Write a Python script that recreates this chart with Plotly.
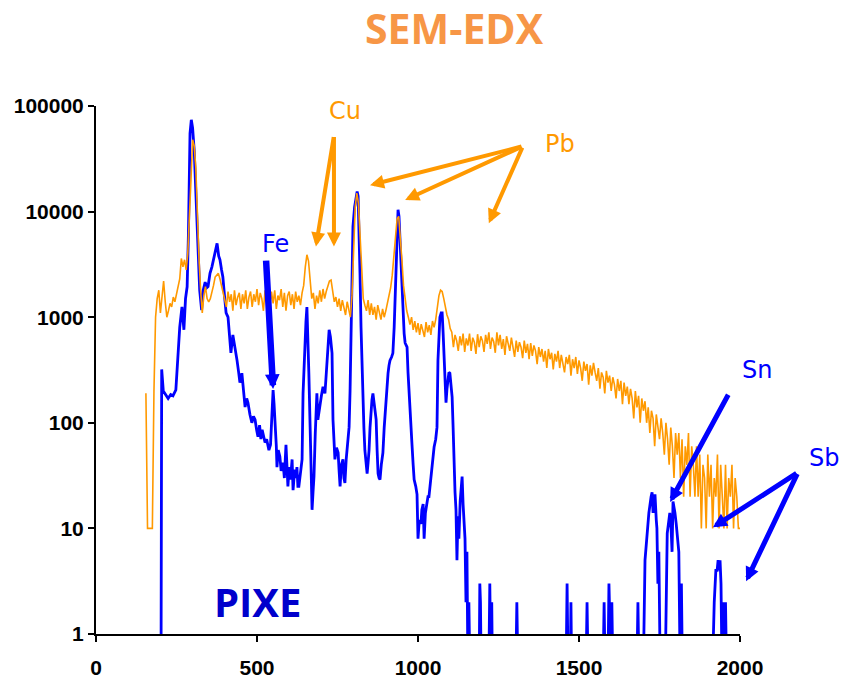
import plotly.graph_objects as go

# SEM-EDX spectrum: channels 155..2000 every 5 channels (rows of 10 = 50 channels)
edx_start, edx_step = 155, 5
edx_counts = [
    190, 10, 10, 10, 10, 200, 1000, 1500, 1800, 1100,
    1700, 2200, 1400, 1000, 1150, 1350, 1250, 1550, 1400, 1700,
    1900, 2300, 3600, 3000, 3500, 2800, 4000, 8000, 20000, 48000,
    42000, 26000, 9000, 3500, 1800, 1100, 1600, 1950, 1500, 1400,
    1500, 1700, 2000, 2400, 2500, 2600, 2300, 1950, 1700, 1450,
    1250, 1750, 1400, 1650, 1150, 1800, 1300, 1550, 1700, 1200,
    1650, 1350, 1800, 1200, 1550, 1750, 1250, 1650, 1400, 1850,
    1300, 1700, 1500, 1150, 1800, 1400, 1650, 1250, 1750, 1350,
    1800, 1200, 1600, 1450, 1850, 1250, 1700, 1150, 1600, 1750,
    1300, 1650, 1200, 1750, 1400, 1600, 1300, 1700, 2000, 3000,
    3900, 3400, 2300, 1500, 1700, 1200, 1600, 1350, 1800, 1400,
    1850, 1500, 1750, 1950, 2200, 2250, 1700, 1400, 1550, 1250,
    1500, 1150, 1450, 1250, 1050, 1400, 1150, 1000, 1600, 5000,
    11000, 15000, 12000, 6000, 2600, 1500, 1300, 1150, 1450, 1050,
    1350, 1050, 1250, 950, 1300, 1100, 950, 1200, 1000, 1150,
    1350, 1500, 1900, 2500, 4000, 6500, 8500, 9000, 6000, 3500,
    2000, 1500, 1150, 1000, 850, 1000, 760, 920, 720, 880,
    680, 860, 760, 650, 900, 720, 840, 680, 920, 800,
    950, 1200, 1600, 1800, 1750, 1500, 1250, 1050, 950, 780,
    720, 520, 680, 600, 480, 660, 540, 700, 470, 630,
    540, 700, 480, 640, 580, 450, 690, 520, 660, 600,
    470, 680, 560, 720, 500, 640, 590, 460, 720, 540,
    680, 500, 620, 440, 660, 570, 480, 640, 530, 420,
    600, 470, 580, 520, 410, 600, 460, 560, 400, 570,
    430, 540, 480, 360, 520, 420, 500, 380, 480, 330,
    500, 400, 460, 320, 450, 380, 480, 330, 440, 370,
    300, 420, 360, 440, 280, 400, 330, 420, 290, 390,
    330, 250, 380, 310, 360, 230, 350, 280, 370, 300,
    250, 330, 210, 300, 270, 190, 310, 240, 280, 200,
    270, 230, 170, 260, 200, 250, 150, 240, 180, 220,
    150, 210, 170, 110, 200, 140, 180, 100, 170, 130,
    160, 100, 140, 80, 130, 110, 60, 120, 90, 70,
    110, 80, 50, 100, 70, 40, 90, 60, 30, 80,
    50, 80, 30, 70, 20, 60, 40, 80, 20, 60,
    40, 20, 60, 20, 50, 10, 40, 30, 10, 50,
    20, 40, 10, 30, 20, 50, 10, 40, 20, 10,
    40, 10, 30, 20, 40, 10, 30, 20, 10, 10,
]
edx_channel = [edx_start + edx_step * i for i in range(len(edx_counts))]

# PIXE spectrum (channel, counts); empty channels sit below the 1-count floor
EMPTY = 0.5
pixe_channel = [
    202, 204, 209, 224, 232, 239, 248, 252, 255, 260, 267, 273, 278, 283, 287,
    292, 296, 300, 305, 311, 317, 322, 328, 333, 339, 344, 348, 354, 360, 366,
    372, 376, 381, 385, 390, 394, 399, 404, 410, 415, 419, 425, 430, 434, 438,
    443, 447, 453, 458, 463, 468, 472, 478, 484, 489, 494, 499, 503, 508, 512,
    516, 521, 525, 530, 534, 537, 542, 546, 550, 553, 556, 560, 562, 566, 571,
    575, 581, 585, 590, 593, 596, 600, 604, 609, 612, 617, 621, 624, 627, 630,
    635, 640, 643, 647, 652, 655, 658, 661, 665, 668, 671, 674, 677, 681, 686,
    689, 693, 696, 700, 705, 708, 711, 714, 717, 721, 724, 728, 733, 736, 739,
    742, 747, 752, 755, 758, 762, 767, 770, 773, 777, 780, 786, 789, 792, 795,
    798, 803, 807, 811, 814, 817, 820, 823, 826, 829, 832, 835, 839, 842, 845,
    848, 851, 854, 857, 860, 865, 870, 873, 876, 879, 882, 886, 891, 895, 898,
    902, 907, 910, 913, 918, 922, 926, 929, 932, 935, 938, 941, 944, 948, 953,
    957, 960, 963, 966, 969, 972, 976, 981, 985, 988, 993, 997, 1000, 1004, 1009,
    1012, 1016, 1019, 1023, 1028, 1031, 1034, 1038, 1043, 1046, 1050, 1055, 1059, 1062, 1065,
    1068, 1072, 1075, 1078, 1081, 1084, 1087, 1090, 1093, 1096, 1099, 1103, 1106, 1109, 1112,
    1115, 1118, 1121, 1124, 1127, 1131, 1134, 1137, 1140, 1143, 1146, 1149, 1152, 1155, 1158,
    1161, 1190, 1192, 1194, 1196, 1220, 1223, 1226, 1229, 1231, 1304, 1307, 1310, 1460, 1463,
    1466, 1473, 1475, 1477, 1522, 1525, 1528, 1575, 1578, 1581, 1590, 1593, 1596, 1599, 1602,
    1605, 1680, 1683, 1686, 1700, 1705, 1711, 1717, 1724, 1727, 1730, 1736, 1740, 1742, 1745,
    1748, 1752, 1768, 1774, 1778, 1782, 1786, 1789, 1792, 1795, 1798, 1802, 1806, 1810, 1814,
    1818, 1821, 1915, 1920, 1925, 1929, 1932, 1935, 1938, 1941, 1944, 1947, 1950, 1955, 1958,
    2000,
]
pixe_counts = [
    EMPTY, 320, 200, 170, 185, 180, 205, 320, 457, 800, 1250, 760, 1500, 1940, 6000,
    55000, 74000, 62000, 38000, 14000, 5400, 1800, 1170, 1800, 2150, 1900, 1950, 2600, 3000, 3600,
    4200, 5000, 3800, 3500, 2800, 2400, 1600, 1100, 1000, 700, 460, 680, 560, 480, 390,
    300, 240, 295, 190, 141, 170, 155, 120, 100, 115, 107, 85, 74, 95, 70,
    86, 72, 65, 70, 58, 55, 62, 120, 204, 150, 107, 60, 38, 55, 48,
    35, 42, 30, 62, 40, 25, 38, 29, 45, 23, 36, 30, 38, 25, 25,
    35, 45, 190, 420, 900, 1250, 710, 300, 91, 35, 15, 22, 31, 80, 190,
    107, 130, 165, 180, 219, 200, 190, 260, 340, 550, 760, 650, 457, 107, 60,
    45, 58, 52, 35, 25, 40, 45, 30, 27, 45, 59, 91, 200, 520, 2500,
    7200, 11000, 13800, 15500, 14000, 7200, 2500, 810, 350, 165, 90, 55, 40, 33, 42,
    55, 90, 132, 165, 190, 150, 107, 55, 33, 30, 29, 40, 52, 90, 124,
    200, 295, 350, 390, 420, 457, 800, 1450, 3500, 7200, 10400, 9000, 5400, 2500, 1170,
    700, 570, 540, 520, 300, 190, 110, 65, 40, 29, 25, 21, 8, 12, 11,
    15, 17, 8, 14, 19, 20, 20, 26, 33, 40, 59, 70, 91, 390, 700,
    1000, 1100, 1100, 710, 390, 200, 155, 210, 270, 300, 295, 230, 175, 91, 36,
    22, 15, 5, 13, 8, 18, 25, 31, 17, 12, 8, 2, 6, EMPTY, 2,
    EMPTY, EMPTY, 3, 2, EMPTY, EMPTY, 3, EMPTY, 2, EMPTY, EMPTY, 2, EMPTY, EMPTY, 3,
    EMPTY, EMPTY, 2, EMPTY, EMPTY, 2, EMPTY, EMPTY, 2, EMPTY, EMPTY, 3, EMPTY, EMPTY, 2,
    EMPTY, EMPTY, 2, EMPTY, EMPTY, 5, 9, 14, 20, 22, 14, 21, 12, 10, 3,
    6, EMPTY, EMPTY, 9, 12, 14, 10, 6, 18, 16, 14, 11, 8, 6, EMPTY,
    3, EMPTY, EMPTY, 2, 4, 4, 5, 4, 5, 3, EMPTY, 2, EMPTY, 2, EMPTY,
    EMPTY,
]

x_ticks = [0, 500, 1000, 1500, 2000]
y_ticks = [1, 10, 100, 1000, 10000, 100000]
y_tick_labels = ["1", "10", "100", "1000", "10000", "100000"]
X_MAX, LOG_MAX = 2000, 5

ORANGE = "#FF9900"
BLUE = "#0000FF"

fig = go.Figure()
fig.add_trace(go.Scatter(x=pixe_channel, y=pixe_counts, mode="lines",
                         line=dict(color=BLUE, width=2.8), name="PIXE"))
fig.add_trace(go.Scatter(x=edx_channel, y=edx_counts, mode="lines",
                         line=dict(color=ORANGE, width=1.6), name="SEM-EDX"))

tick_font = dict(family="Liberation Sans, Arial, sans-serif", size=21,
                 color="black", weight="bold")

fig.update_layout(
    width=844, height=681,
    margin=dict(l=96, r=104, t=106, b=47),
    paper_bgcolor="white", plot_bgcolor="white",
    showlegend=False,
    xaxis=dict(range=[0, X_MAX], tickvals=x_ticks, showgrid=False, zeroline=False,
               showline=True, linecolor="black", linewidth=2,
               ticks="outside", ticklen=6, tickwidth=2, tickcolor="black",
               ticklabelstandoff=8, automargin=False, tickfont=tick_font),
    yaxis=dict(type="log", range=[0, LOG_MAX], tickvals=y_ticks, ticktext=y_tick_labels,
               showgrid=False, zeroline=False,
               showline=True, linecolor="black", linewidth=2,
               ticks="outside", ticklen=6, tickwidth=2, tickcolor="black",
               automargin=False, tickfont=tick_font),
)

label_font = "DejaVu Sans, Verdana, sans-serif"


def dom(channel, log_counts):
    # position inside the plot area as fractions of its width/height
    return channel / X_MAX, log_counts / LOG_MAX


def label(text, at, color, size=24, family=label_font, weight="normal"):
    x, y = dom(*at)
    fig.add_annotation(x=x, y=y, xref="x domain", yref="y domain", text=text,
                       showarrow=False, xanchor="center", yanchor="middle",
                       font=dict(family=family, size=size, color=color, weight=weight))


def pointer(tail, tip, color, width, size):
    x, y = dom(*tip)
    ax, ay = dom(*tail)
    fig.add_annotation(x=x, y=y, ax=ax, ay=ay,
                       xref="x domain", yref="y domain",
                       axref="x domain", ayref="y domain",
                       text="", showarrow=True, arrowhead=2,
                       arrowwidth=width, arrowsize=size, arrowcolor=color,
                       standoff=0, startstandoff=0)


# element labels and their pointers (channel, log10 counts)
label("Cu", (773, 4.95), ORANGE)
pointer((739, 4.72), (683, 3.67), ORANGE, 4, 0.7)
pointer((739, 4.72), (739, 3.67), ORANGE, 4, 0.7)

label("Pb", (1441, 4.64), ORANGE)
pointer((1326, 4.62), (851, 4.25), ORANGE, 4, 0.7)
pointer((1326, 4.62), (960, 4.11), ORANGE, 4, 0.7)
pointer((1326, 4.62), (1220, 3.89), ORANGE, 4, 0.7)

label("Fe", (556, 3.69), BLUE)
pointer((528, 3.55), (550, 2.32), BLUE, 6.5, 0.45)

label("Sn", (2053, 2.50), BLUE)
pointer((1966, 2.28), (1783, 1.25), BLUE, 5, 0.56)

label("Sb", (2261, 1.67), BLUE)
pointer((2180, 1.53), (1916, 1.01), BLUE, 5, 0.56)
pointer((2180, 1.53), (2019, 0.50), BLUE, 5, 0.56)

label("PIXE", (500, 0.31), "#0000CC", size=40, family="Open Sans, sans-serif", weight="bold")

fig.add_annotation(x=0.557, y=1.148, xref="paper", yref="paper", text="SEM-EDX",
                   showarrow=False, xanchor="center", yanchor="middle",
                   font=dict(family="Open Sans, sans-serif", size=41,
                             color="#F79646", weight="bold"))

fig.write_html("out.html")
